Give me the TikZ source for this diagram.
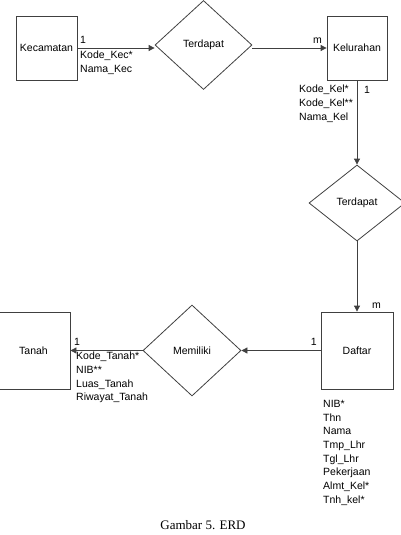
\documentclass[tikz,border=0pt]{standalone}
\usepackage{fontspec}
\setmainfont{Liberation Sans}
\newfontfamily\captionfont{Liberation Serif}
\usetikzlibrary{shapes.geometric, arrows.meta}

\tikzset{
    entity/.style={rectangle, draw=black!75, line width=0.8pt, fill=white, inner sep=0pt},
    relation/.style={diamond, draw=black!75, line width=0.8pt, inner sep=0pt,
        minimum width=97pt, minimum height=89pt},
    attr/.style={anchor=north west, align=left, inner sep=0pt,
        font=\fontsize{10.5}{13.6}\selectfont},
    card/.style={inner sep=0pt, font=\fontsize{10.5}{12}\selectfont},
    link/.style={draw=black!75, line width=0.8pt, -{Triangle[length=6pt, width=6pt]}}
}

\begin{document}
\begin{tikzpicture}[x=1pt, y=-1pt, font=\fontsize{10.5}{12}\selectfont]
    \useasboundingbox (0, 0) rectangle (401, 535);
    % entities
    \node[entity, minimum width=61pt, minimum height=64pt] (kec) at (46.5, 48) {Kecamatan};
    \node[entity, minimum width=60pt, minimum height=64pt] (kel) at (357, 48) {Kelurahan};
    \node[entity, minimum width=72pt, minimum height=77pt] (daftar) at (357, 350.5) {Daftar};
    \node[entity, minimum width=73pt, minimum height=77pt] (tanah) at (33.5, 350.5) {Tanah};
    % relations
    \node[relation] (rel1) at (203.5, 45) {Terdapat};
    \node[relation, minimum width=96pt, minimum height=76pt] (rel2) at (357, 203) {Terdapat};
    \node[relation, minimum width=98pt, minimum height=91pt] (rel3) at (192, 350.5) {Memiliki};
    % connectors
    \draw[link] (kec.east) -- (kec.east -| rel1.west);
    \draw[link] (rel1.east |- kel.west) -- (kel.west);
    \draw[link] (kel.south) -- (rel2.north);
    \draw[link] (rel2.south) -- (daftar.north);
    \draw[link] (daftar.west) -- (rel3.east);
    \draw[link] (rel3.west) -- (tanah.east);
    % cardinalities
    \node[card, anchor=south west] (c1) at (80, 44) {1};
    \node[card, anchor=south east] (c2) at (322, 44) {m};
    \node[card, anchor=north west] (c3) at (364, 86) {1};
    \node[card, anchor=south west] (c4) at (372, 309) {m};
    \node[card, anchor=south east] (c5) at (317, 346) {1};
    \node[card, anchor=south west] (c6) at (74, 346) {1};
    % attributes
    \node[attr] (akec) at (80, 51) {Kode\_Kec*\\Nama\_Kec};
    \node[attr] (akel) at (299, 85) {Kode\_Kel*\\Kode\_Kel**\\Nama\_Kel};
    \node[attr] (atanah) at (76, 352) {Kode\_Tanah*\\NIB**\\Luas\_Tanah\\Riwayat\_Tanah};
    \node[attr, font=\fontsize{10.5}{13.7}\selectfont] (adaftar) at (323, 400)
        {NIB*\\Thn\\Nama\\Tmp\_Lhr\\Tgl\_Lhr\\Pekerjaan\\Almt\_Kel*\\Tnh\_kel*};
    % caption
    \node[anchor=north, inner sep=0pt, font=\captionfont\fontsize{13}{15}\selectfont] (cap) at (203, 520) {Gambar 5. ERD};
\end{tikzpicture}
\end{document}
